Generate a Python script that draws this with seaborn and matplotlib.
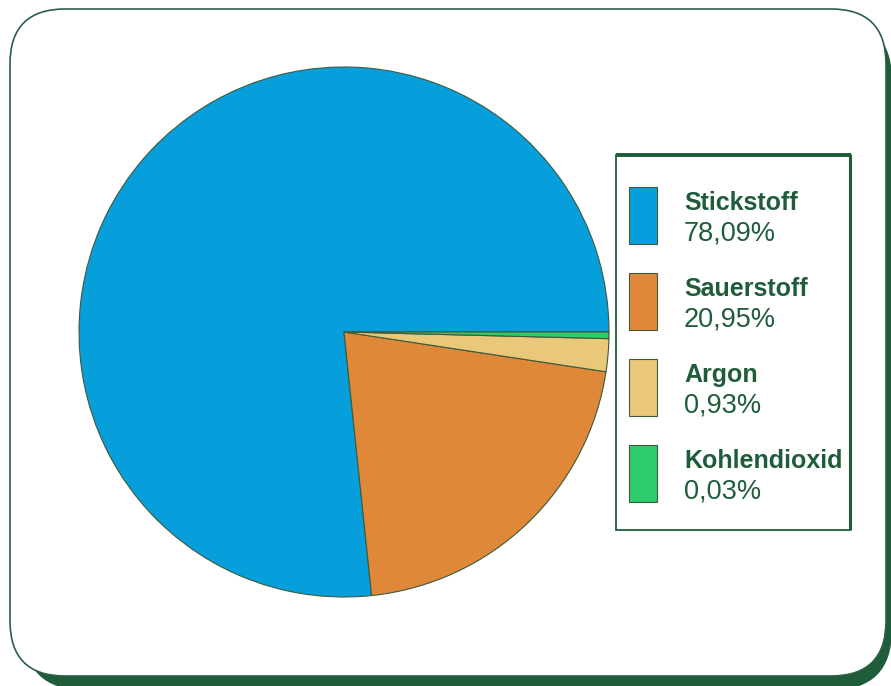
import matplotlib.pyplot as plt
import seaborn as sns
from matplotlib.patches import FancyBboxPatch, Rectangle

gases = ['Stickstoff', 'Sauerstoff', 'Argon', 'Kohlendioxid']
percent_labels = ['78,09%', '20,95%', '0,93%', '0,03%']
# wedge sizes as drawn in the picture (small gases are drawn bigger than their share)
wedge_shares = [76.7, 20.95, 2.0, 0.4]
colors = ['#069fdb', '#e0883a', '#e9c87a', '#2ecb6b']

sns.set_theme(style='white')
plt.rcParams['font.family'] = ['Liberation Sans', 'DejaVu Sans']

dark_green = '#1f5c3a'
W, H = 891, 686
fig = plt.figure(figsize=(W / 100, H / 100), dpi=100)
fig.patch.set_facecolor('white')

# background layer in pixel units
bg = fig.add_axes([0, 0, 1, 1])
bg.set_xlim(0, W)
bg.set_ylim(H, 0)
bg.axis('off')

#Rahmen mit Schatten
bg.add_patch(FancyBboxPatch((24, 20), 868, 670, boxstyle='round,pad=0,rounding_size=60',
                            facecolor=dark_green, edgecolor='none'))
bg.add_patch(FancyBboxPatch((10, 9), 876, 667, boxstyle='round,pad=0,rounding_size=55',
                            facecolor='white', edgecolor='#2d5e4a', linewidth=1.2))

#Legende
bg.add_patch(Rectangle((616, 155), 234, 375, facecolor='white', edgecolor=dark_green, linewidth=1.3))
bg.plot([616, 851], [155, 155], color=dark_green, linewidth=2.8, solid_capstyle='butt')
bg.plot([850, 850], [154, 530], color=dark_green, linewidth=2.2, solid_capstyle='butt')

for i, (name, pct, col) in enumerate(zip(gases, percent_labels, colors)):
    y0 = 187 + i * 86
    bg.add_patch(Rectangle((629, y0), 28, 57, facecolor=col, edgecolor='#3d5a3a', linewidth=0.8))
    bg.text(684, y0 + 16, name, fontsize=18, fontweight='bold', color=dark_green, va='center', ha='left')
    bg.text(684, y0 + 46, pct, fontsize=19.5, color=dark_green, va='center', ha='left')

#Pizza
ax = fig.add_axes([79 / W, 1 - 597 / H, 530 / W, 530 / H])
ax.pie(wedge_shares, colors=colors, startangle=0, counterclock=True,
       wedgeprops={'edgecolor': '#3d5a3a', 'linewidth': 0.8})
ax.set_xlim(-1.0, 1.0)
ax.set_ylim(-1.0, 1.0)
ax.set_aspect('equal')
ax.axis('off')

plt.savefig('out.png', dpi=100)
